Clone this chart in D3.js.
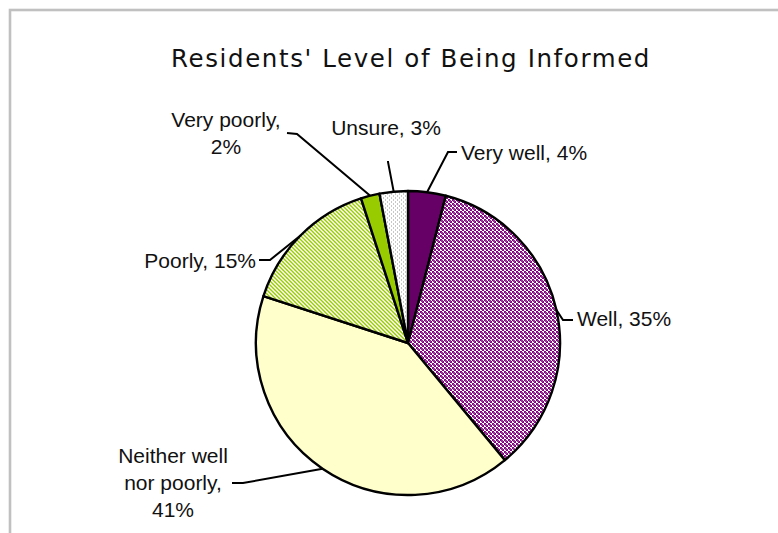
<!DOCTYPE html>
<html>
<head>
<meta charset="utf-8">
<script src="https://cdn.jsdelivr.net/npm/d3@7"></script>
<style>
  html, body { margin: 0; padding: 0; background: #ffffff; }
  svg { display: block; }
</style>
</head>
<body>
<svg id="chart" width="778" height="533"></svg>
<script>
// Survey responses, clockwise from 12 o'clock
const categories = ["Very well", "Well", "Neither well nor poorly", "Poorly", "Very poorly", "Unsure"];
const percents   = [4, 35, 41, 15, 2, 3];
const labelLines = [
  ["Very well, 4%"],
  ["Well, 35%"],
  ["Neither well", "nor poorly,", "41%"],
  ["Poorly, 15%"],
  ["Very poorly,", "2%"],
  ["Unsure, 3%"]
];
const title = "Residents' Level of Being Informed";

// Label placement: text anchor point, alignment, and leader elbow/end points
const labelLayout = [
  { x: 461, y: 160, anchor: "start",  elbow: [448, 152], end: [457, 152] },
  { x: 577, y: 326, anchor: "start",  elbow: [563, 320], end: [573, 320] },
  { x: 173, y: 463, anchor: "middle", elbow: [243, 483], end: [232, 483] },
  { x: 256, y: 268, anchor: "end",    elbow: [270, 260], end: [259, 260] },
  { x: 226, y: 127, anchor: "middle", elbow: [297, 134], end: [287, 133] },
  { x: 386, y: 135, anchor: "middle", elbow: [388, 162], end: [388, 161] }
];

const svg = d3.select("#chart");
const W = 778, H = 533;
const cx = 408, cy = 343, R = 152;

// Frame
svg.append("rect")
  .attr("x", 10).attr("y", 10)
  .attr("width", W + 20).attr("height", H + 20)
  .attr("fill", "#ffffff")
  .attr("stroke", "#c0c0c0").attr("stroke-width", 2.6);

// Fill patterns
const defs = svg.append("defs");

const pWell = defs.append("pattern").attr("id", "pWell")
  .attr("patternUnits", "userSpaceOnUse").attr("width", 4).attr("height", 4);
pWell.append("rect").attr("width", 4).attr("height", 4).attr("fill", "#ffffff");
pWell.append("rect").attr("x", 0).attr("y", 0).attr("width", 2).attr("height", 2).attr("fill", "#800080");
pWell.append("rect").attr("x", 2).attr("y", 2).attr("width", 2).attr("height", 2).attr("fill", "#800080");
pWell.append("rect").attr("x", 1).attr("y", 1).attr("width", 2).attr("height", 2).attr("fill", "#993399");

const pPoor = defs.append("pattern").attr("id", "pPoor")
  .attr("patternUnits", "userSpaceOnUse").attr("width", 4).attr("height", 4);
pPoor.append("rect").attr("width", 4).attr("height", 4).attr("fill", "#ffffff");
pPoor.append("path").attr("d", "M0,0 L4,4 M-2,2 L2,6 M2,-2 L6,2")
  .attr("stroke", "#99cc00").attr("stroke-width", 1.4);

const pUnsure = defs.append("pattern").attr("id", "pUnsure")
  .attr("patternUnits", "userSpaceOnUse").attr("width", 4).attr("height", 4);
pUnsure.append("rect").attr("width", 4).attr("height", 4).attr("fill", "#ffffff");
pUnsure.append("rect").attr("x", 1).attr("y", 0).attr("width", 1).attr("height", 2).attr("fill", "#c8c8c8");
pUnsure.append("rect").attr("x", 3).attr("y", 2).attr("width", 1).attr("height", 2).attr("fill", "#c8c8c8");

const fills = ["#660066", "url(#pWell)", "#ffffcc", "url(#pPoor)", "#99cc00", "url(#pUnsure)"];

// Title
svg.append("text")
  .attr("x", 411).attr("y", 67)
  .attr("text-anchor", "middle")
  .attr("font-family", "DejaVu Sans, Verdana, sans-serif")
  .attr("font-size", 24.5)
  .attr("letter-spacing", 1.6)
  .attr("fill", "#111111")
  .text(title);

// Pie
const data = categories.map((c, i) => ({ name: c, value: percents[i], idx: i }));
const pie = d3.pie().value(d => d.value).sort(null);
const arcs = pie(data);
const arc = d3.arc().innerRadius(0).outerRadius(R);
const edgeArc = d3.arc().innerRadius(R).outerRadius(R);

const g = svg.append("g").attr("transform", `translate(${cx},${cy})`);
g.selectAll("path.slice")
  .data(arcs)
  .join("path")
  .attr("class", "slice")
  .attr("d", arc)
  .attr("fill", d => fills[d.data.idx])
  .attr("stroke", "#000000")
  .attr("stroke-width", 2.4)
  .attr("stroke-linejoin", "round");

// Leader lines
svg.append("g").selectAll("path.leader")
  .data(arcs)
  .join("path")
  .attr("class", "leader")
  .attr("fill", "none")
  .attr("stroke", "#000000")
  .attr("stroke-width", 2)
  .attr("d", d => {
    const [ex, ey] = edgeArc.centroid(d);
    const L = labelLayout[d.data.idx];
    return d3.line()([[cx + ex, cy + ey], L.elbow, L.end]);
  });

// Labels
const lab = svg.append("g")
  .attr("font-family", "Liberation Sans, Arial, sans-serif")
  .attr("font-size", 21)
  .attr("fill", "#111111");
arcs.forEach(d => {
  const L = labelLayout[d.data.idx];
  const t = lab.append("text")
    .attr("x", L.x).attr("y", L.y)
    .attr("text-anchor", L.anchor);
  labelLines[d.data.idx].forEach((line, k) => {
    t.append("tspan").attr("x", L.x).attr("dy", k === 0 ? 0 : 27).text(line);
  });
});
</script>
</body>
</html>
